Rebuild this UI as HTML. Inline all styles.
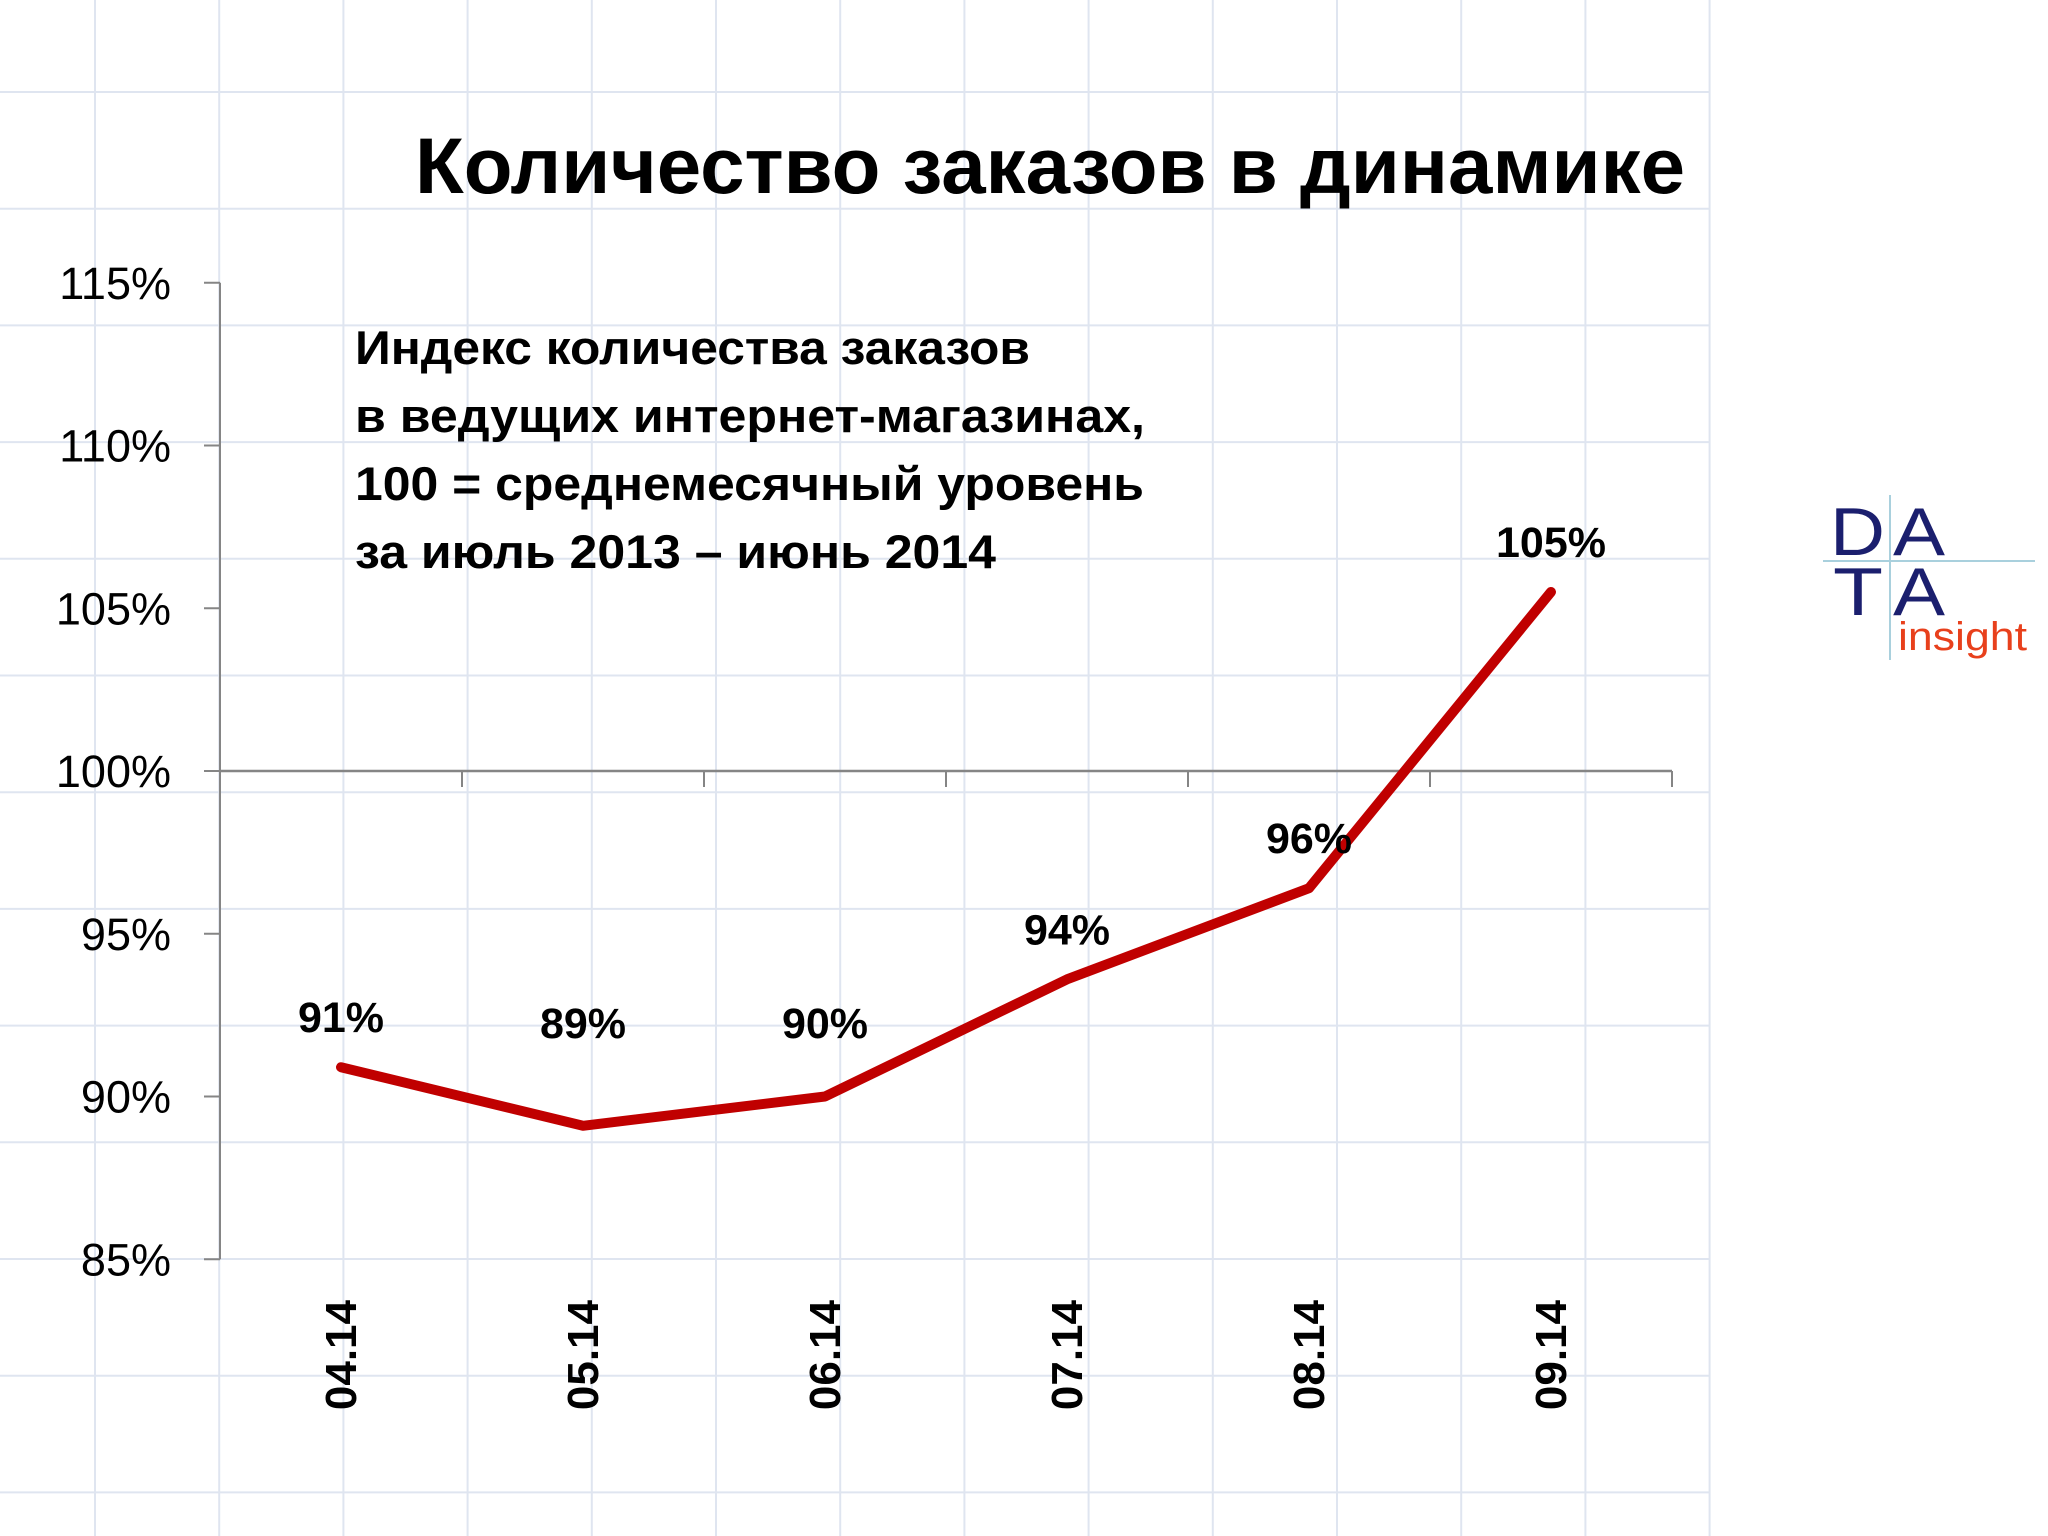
<!DOCTYPE html>
<html><head><meta charset="utf-8"><style>
html,body{margin:0;padding:0;background:#fff;}
svg{display:block;font-family:"Liberation Sans","DejaVu Sans",sans-serif;}
</style></head>
<body>
<svg id="chart" width="2048" height="1536" viewBox="0 0 2048 1536" xmlns="http://www.w3.org/2000/svg">
<g id="grid"></g>
<text x="415" y="193" font-size="79" font-weight="bold" fill="#000" textLength="1270" lengthAdjust="spacingAndGlyphs">Количество заказов в динамике</text>
<g font-size="47" font-weight="bold" fill="#000">
<text x="355" y="364" textLength="675" lengthAdjust="spacingAndGlyphs">Индекс количества заказов</text>
<text x="355" y="432" textLength="790" lengthAdjust="spacingAndGlyphs">в ведущих интернет-магазинах,</text>
<text x="355" y="500" textLength="789" lengthAdjust="spacingAndGlyphs">100 = среднемесячный уровень</text>
<text x="355" y="568" textLength="641" lengthAdjust="spacingAndGlyphs">за июль 2013 – июнь 2014</text>
</g>
<g id="axes"></g>
<g id="series"></g>
<g>
<line x1="1823" y1="561" x2="2035" y2="561" stroke="#a9d0dd" stroke-width="2"/>
<line x1="1890" y1="495" x2="1890" y2="660" stroke="#a9d0dd" stroke-width="2"/>
<text x="1830" y="555" font-size="68" fill="#1b1f6e" textLength="55" lengthAdjust="spacingAndGlyphs">D</text>
<text x="1893" y="555" font-size="68" fill="#1b1f6e" textLength="52" lengthAdjust="spacingAndGlyphs">A</text>
<text x="1833" y="615" font-size="68" fill="#1b1f6e" textLength="50" lengthAdjust="spacingAndGlyphs">T</text>
<text x="1893" y="615" font-size="68" fill="#1b1f6e" textLength="52" lengthAdjust="spacingAndGlyphs">A</text>
<text x="1898" y="650" font-size="40" fill="#e8401c" textLength="129" lengthAdjust="spacingAndGlyphs">insight</text>
</g>
</svg>
<script>
const categories = ["04.14","05.14","06.14","07.14","08.14","09.14"];
const values = [90.9, 89.1, 90.0, 93.6, 96.4, 105.5];
const valueLabels = ["91%","89%","90%","94%","96%","105%"];
const yTicks = [85, 90, 95, 100, 105, 110, 115];
const yTickLabels = ["85%","90%","95%","100%","105%","110%","115%"];

const NS = "http://www.w3.org/2000/svg";
function mk(tag, attrs, parent){const e=document.createElementNS(NS,tag);for(const k in attrs)e.setAttribute(k,attrs[k]);parent.appendChild(e);return e;}
const X0 = 220, BAND = 242;
function xPos(i){return X0 + BAND*(i+0.5);}
function yPos(v){return 771 + (100 - v)*32.55;}

// background grid
const grid = document.getElementById('grid');
for(let x=95; x<=1720; x+=124.2){
  const l=mk('line',{x1:x,y1:0,x2:x,y2:1536,stroke:'#dfe5f0','stroke-width':2},grid);
  
  
}
for(let y=92; y<=1536; y+=116.7){
  const l=mk('line',{x1:0,y1:y,x2:1710,y2:y,stroke:'#dfe5f0','stroke-width':2},grid);
  
  
}

// axes
const axes = document.getElementById('axes');
const ya = mk('line',{x1:X0,y1:yPos(115),x2:X0,y2:yPos(85),stroke:'#858585','stroke-width':2},axes);


yTicks.forEach((v,i)=>{
  const t=mk('line',{x1:X0-16,y1:yPos(v),x2:X0,y2:yPos(v),stroke:'#858585','stroke-width':2},axes);
  
  
  const tx=mk('text',{x:171,y:yPos(v)+16,'font-size':45,'text-anchor':'end',fill:'#000'},axes);
  tx.textContent=yTickLabels[i];
  
  
});
const xa = mk('line',{x1:X0,y1:yPos(100),x2:X0+BAND*categories.length,y2:yPos(100),stroke:'#858585','stroke-width':2.5},axes);


for(let i=1;i<=categories.length;i++){
  const t=mk('line',{x1:X0+BAND*i,y1:yPos(100),x2:X0+BAND*i,y2:yPos(100)+16,stroke:'#858585','stroke-width':2},axes);
  
  
}
categories.forEach((c,i)=>{
  const x=xPos(i);
  const t=mk('text',{x:0,y:0,'font-size':44,'font-weight':'bold','text-anchor':'end',fill:'#000',transform:`translate(${x+15},1300) rotate(-90)`},axes);
  t.textContent=c;
  
  
});

// series
const series = document.getElementById('series');
const pts = values.map((v,i)=>xPos(i)+','+yPos(v)).join(' ');
const pl = mk('polyline',{points:pts,fill:'none',stroke:'#c00000','stroke-width':10,'stroke-linejoin':'round','stroke-linecap':'round'},series);


values.forEach((v,i)=>{
  const cy=Math.min(yPos(v)-50, 1023);
  const t=mk('text',{x:xPos(i),y:cy+15,'font-size':43,'font-weight':'bold','text-anchor':'middle',fill:'#000'},series);
  t.textContent=valueLabels[i];
  
  
});
</script>
</body></html>
